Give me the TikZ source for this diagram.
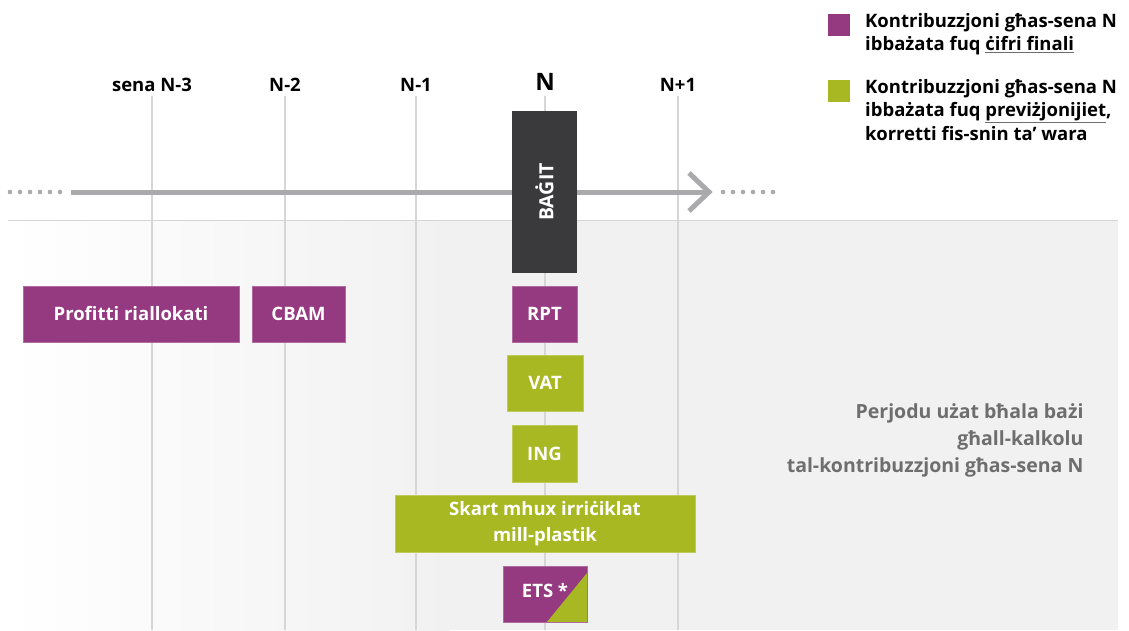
\documentclass[tikz,border=0pt]{standalone}
\usepackage{fontspec}
\setmainfont[Ligatures=NoCommon]{Open Sans}
\definecolor{purp}{RGB}{149,57,128}
\definecolor{lime}{RGB}{168,184,35}
\definecolor{darkbox}{RGB}{58,58,60}
\definecolor{axisgray}{RGB}{170,170,173}
\definecolor{gridgray}{RGB}{214,214,214}
\definecolor{bggray}{RGB}{241,241,241}
\definecolor{notegray}{RGB}{110,110,110}
\newcommand\grayul[1]{{\color{notegray}\underline{\color{black}#1}}}
\begin{document}
\begin{tikzpicture}[x=1pt, y=-1pt, font=\bfseries\fontsize{18.5}{23.5}\selectfont,
  box/.style={minimum height=56pt, inner sep=0pt, text=white, align=center},
  final/.style={box, fill=purp, draw=purp!75!white, line width=.6pt},
  fcast/.style={box, fill=lime, draw=lime!75!white, line width=.6pt},
  grid/.style={draw=gridgray, line width=1.2pt},
  axis/.style={draw=axisgray, line width=5pt},
  year/.style={anchor=base, text=black},
  legkey/.style={minimum size=22pt, inner sep=0pt}]
\useasboundingbox (0,0) rectangle (1129,630);

% background
\shade[left color=white, right color=bggray] (8,220) rectangle (450,630);
\fill[bggray] (449,220) rectangle (1118,630);
\draw[gridgray, line width=1pt] (8,220) -- (1118,220);

% years
\node[year] (y3) at (152,91) {sena N-3};
\node[year] (y2) at (285,91) {N-2};
\node[year] (y1) at (416,91) {N-1};
\node[year, font=\bfseries\fontsize{24}{24}\selectfont] (y0) at (545,90) {N};
\node[year] (yp) at (678,91) {N+1};
\foreach \n/\x in {y3/152, y2/285, y1/416, y0/545, yp/678}
  \draw[grid] (\x,96) -- (\x,630);

% time axis
\coordinate (axl) at (71,192);
\coordinate (axr) at (709,192);
\draw[axis] (axl) -- (axr);
\draw[axis] (689,173) -- (axr) -- (689,211);
\foreach \x in {10,20,...,60}
  \fill[axisgray] (\x,192) circle (2.3pt);
\foreach \x in {723,733,...,773}
  \fill[axisgray] (\x,192) circle (2.3pt);

% boxes
\node[box, fill=darkbox, minimum width=65pt, minimum height=162pt, font=\bfseries\fontsize{19.5}{20}\selectfont] (bagit) at (544.5,192) {\rotatebox{90}{BAĠIT}};
\node[final, minimum width=216pt] (prof) at (131,314) {Profitti riallokati};
\node[final, minimum width=93pt] (cbam) at (298.5,314) {CBAM};
\node[final, minimum width=65pt] (rpt) at (544.5,314) {RPT};
\node[fcast, minimum width=76pt] (vat) at (545,383) {VAT};
\node[fcast, minimum width=65pt, minimum height=57pt] (ing) at (544.5,453.5) {ING};
\node[fcast, minimum width=300pt, minimum height=57pt, font=\bfseries\fontsize{18.5}{26}\selectfont] (skart) at (545,523.5) {Skart mhux irriċiklat\\mill-plastik};
\node[final, minimum width=84pt,
  path picture={\fill[lime] ([yshift=-7pt]path picture bounding box.north east)
    -- (path picture bounding box.south east)
    -- ([xshift=2pt]path picture bounding box.south) -- cycle;}] (ets) at (545,594) {ETS *\rule[-8pt]{0pt}{1pt}};

% note
\node[anchor=east, align=right, text=notegray, font=\bfseries\fontsize{19.5}{27}\selectfont] (note) at (1087,440)
  {Perjodu użat bħala bażi\\għall-kalkolu\\tal-kontribuzzjoni għas-sena N};

% legend
\node[legkey, fill=purp] (kfin) at (839,25) {};
\node[legkey, fill=lime] (kfc) at (839,91) {};
\node[anchor=north west, align=left, inner sep=0pt] (lfin) at (865,13)
  {Kontribuzzjoni għas-sena N\\ibbażata fuq \grayul{ċifri finali}};
\node[anchor=north west, align=left, inner sep=0pt] (lfc) at (865,79)
  {Kontribuzzjoni għas-sena N\\ibbażata fuq \grayul{previżjonijiet},\\korretti fis-snin ta’ wara};
\end{tikzpicture}
\end{document}
